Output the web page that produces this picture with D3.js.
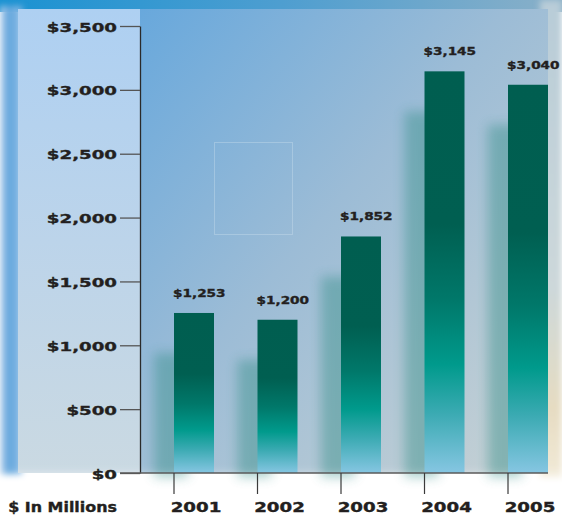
<!DOCTYPE html>
<html><head><meta charset="utf-8">
<script src="https://cdn.jsdelivr.net/npm/d3@7"></script>
<style>html,body{margin:0;padding:0;background:#fff;overflow:hidden}</style>
</head><body>
<script>
const years = ["2001","2002","2003","2004","2005"];
const values = [1253, 1200, 1852, 3145, 3040];
const valueLabels = ["$1,253","$1,200","$1,852","$3,145","$3,040"];
const yTicks = [0,500,1000,1500,2000,2500,3000,3500];
const yTickLabels = ["$0","$500","$1,000","$1,500","$2,000","$2,500","$3,000","$3,500"];
const unitLabel = "$ In Millions";

const W = 562, H = 515;
const svg = d3.select("body").append("svg").attr("width", W).attr("height", H);
const defs = svg.append("defs");

function lin(id, x1, y1, x2, y2, stops) {
  const g = defs.append("linearGradient").attr("id", id)
    .attr("x1", x1).attr("y1", y1).attr("x2", x2).attr("y2", y2);
  stops.forEach(s => g.append("stop").attr("offset", s[0]).attr("stop-color", s[1]));
}
lin("topband", 0, 0, 1, 0, [[0, "#1a92d2"], [0.5, "#4e9ed0"], [1, "#8ab0c8"]]);
lin("leftstrip", 0, 0, 1, 0, [[0, "#c4daf0"], [0.35, "#5ea4dc"], [1, "#8cbce6"]]);
lin("leftpanel", 0, 0, 0, 1, [[0, "#aed0f2"], [0.5, "#bcd4ea"], [1, "#cad9e2"]]);
lin("mainpanel", 0, 0, 1, 1, [[0, "#68a8dc"], [0.45, "#9cbcd6"], [1, "#c8d2d4"]]);
lin("rightside", 0, 0, 0, 1, [[0, "#b8ccd8"], [0.6, "#cdd8da"], [0.85, "#e6dcc2"], [1, "#f2ead8"]]);
lin("barfill", 0, 0, 0, 1, [[0, "#005e50"], [0.38, "#005f51"], [0.57, "#00786a"], [0.73, "#009a8c"], [0.85, "#3aaab2"], [1, "#86c6e2"]]);

const blur = defs.append("filter").attr("id", "blur").attr("x", "-50%").attr("y", "-50%").attr("width", "200%").attr("height", "200%");
blur.append("feGaussianBlur").attr("stdDeviation", 6);
const blur2 = defs.append("filter").attr("id", "blur2").attr("x", "-50%").attr("y", "-50%").attr("width", "200%").attr("height", "200%");
blur2.append("feGaussianBlur").attr("stdDeviation", 3);

// scales
const x = d3.scaleBand().domain(years).range([174, 548]).paddingInner(0.521).paddingOuter(0);
const y = d3.scaleLinear().domain([0, 3500]).range([473, 26]);
const base = y(0);

// background
svg.append("rect").attr("x", 0).attr("y", 0).attr("width", W).attr("height", H).attr("fill", "#ffffff");
const bg = svg.append("g");
bg.append("rect").attr("x", 0).attr("y", 0).attr("width", W).attr("height", 12).attr("fill", "url(#topband)");
bg.append("rect").attr("x", 540).attr("y", 0).attr("width", 22).attr("height", 480).attr("fill", "url(#rightside)").attr("filter", "url(#blur2)");
bg.append("rect").attr("x", 0).attr("y", 6).attr("width", 22).attr("height", 470).attr("fill", "url(#leftstrip)").attr("filter", "url(#blur2)");
bg.append("rect").attr("x", 18).attr("y", 9).attr("width", 122).attr("height", base - 9).attr("fill", "url(#leftpanel)");
bg.append("rect").attr("x", 140).attr("y", 9).attr("width", 408).attr("height", base - 9).attr("fill", "url(#mainpanel)");
bg.append("rect").attr("x", 214.5).attr("y", 142.5).attr("width", 78).attr("height", 92)
  .attr("fill", "none").attr("stroke", "#d4e4f0").attr("stroke-opacity", 0.35);
// white fade below plot
bg.append("rect").attr("x", -20).attr("y", base + 4).attr("width", W + 40).attr("height", 60).attr("fill", "#ffffff").attr("filter", "url(#blur)");

// bar shadows
svg.append("g").selectAll("rect").data(years).join("rect")
  .attr("x", d => x(d) - 20)
  .attr("y", (d, i) => y(values[i]) + 40)
  .attr("width", 34)
  .attr("height", (d, i) => base - y(values[i]) - 36)
  .attr("fill", "#2f8c84").attr("opacity", 0.42).attr("filter", "url(#blur)");

// bars
svg.append("g").selectAll("rect").data(years).join("rect")
  .attr("x", d => x(d))
  .attr("y", (d, i) => y(values[i]))
  .attr("width", x.bandwidth())
  .attr("height", (d, i) => base - y(values[i]))
  .attr("fill", "url(#barfill)");

const FONT = "'DejaVu Sans', Verdana, sans-serif";
function wideText(g, tx, ty, txt, size, anchor, sx) {
  return g.append("text")
    .attr("transform", `translate(${tx},${ty}) scale(${sx},1)`)
    .attr("text-anchor", anchor)
    .attr("font-family", FONT).attr("font-weight", "bold")
    .attr("font-size", size).attr("fill", "#231f20")
    .attr("stroke", "#231f20").attr("stroke-width", 0.35)
    .text(txt);
}

// y axis
const yAxis = svg.append("g").attr("transform", "translate(140,0)")
  .call(d3.axisLeft(y).tickValues(yTicks).tickSize(20).tickSizeOuter(0).tickFormat((d, i) => yTickLabels[i]));
yAxis.select(".domain").attr("stroke", "#2a2a2a").attr("stroke-width", 1.3);
yAxis.selectAll(".tick line").attr("stroke", "#555").attr("stroke-width", 1.3);
yAxis.selectAll(".tick text").remove();
yAxis.selectAll(".tick").each(function (d, i) {
  wideText(d3.select(this), -23, 5, yTickLabels[i], 13, "end", 1.4);
});

// x axis
const xg = svg.append("g");
xg.append("line").attr("x1", 120).attr("x2", 548).attr("y1", base).attr("y2", base)
  .attr("stroke", "#5a5a5a").attr("stroke-width", 1.6);
xg.selectAll(".xt").data(years).join("line")
  .attr("x1", d => x(d)).attr("x2", d => x(d))
  .attr("y1", base).attr("y2", base + 21)
  .attr("stroke", "#3a3a3a").attr("stroke-width", 1.2);
years.forEach(d => wideText(xg, x(d) + x.bandwidth() / 2 + 2, 512, d, 13.5, "middle", 1.35));
wideText(xg, 117, 512, unitLabel, 13.5, "end", 1.18);

// value labels
const lg = svg.append("g");
years.forEach((d, i) => wideText(lg, x(d) - 1, y(values[i]) - 16, valueLabels[i], 10.5, "start", 1.3));
</script>
</body></html>
